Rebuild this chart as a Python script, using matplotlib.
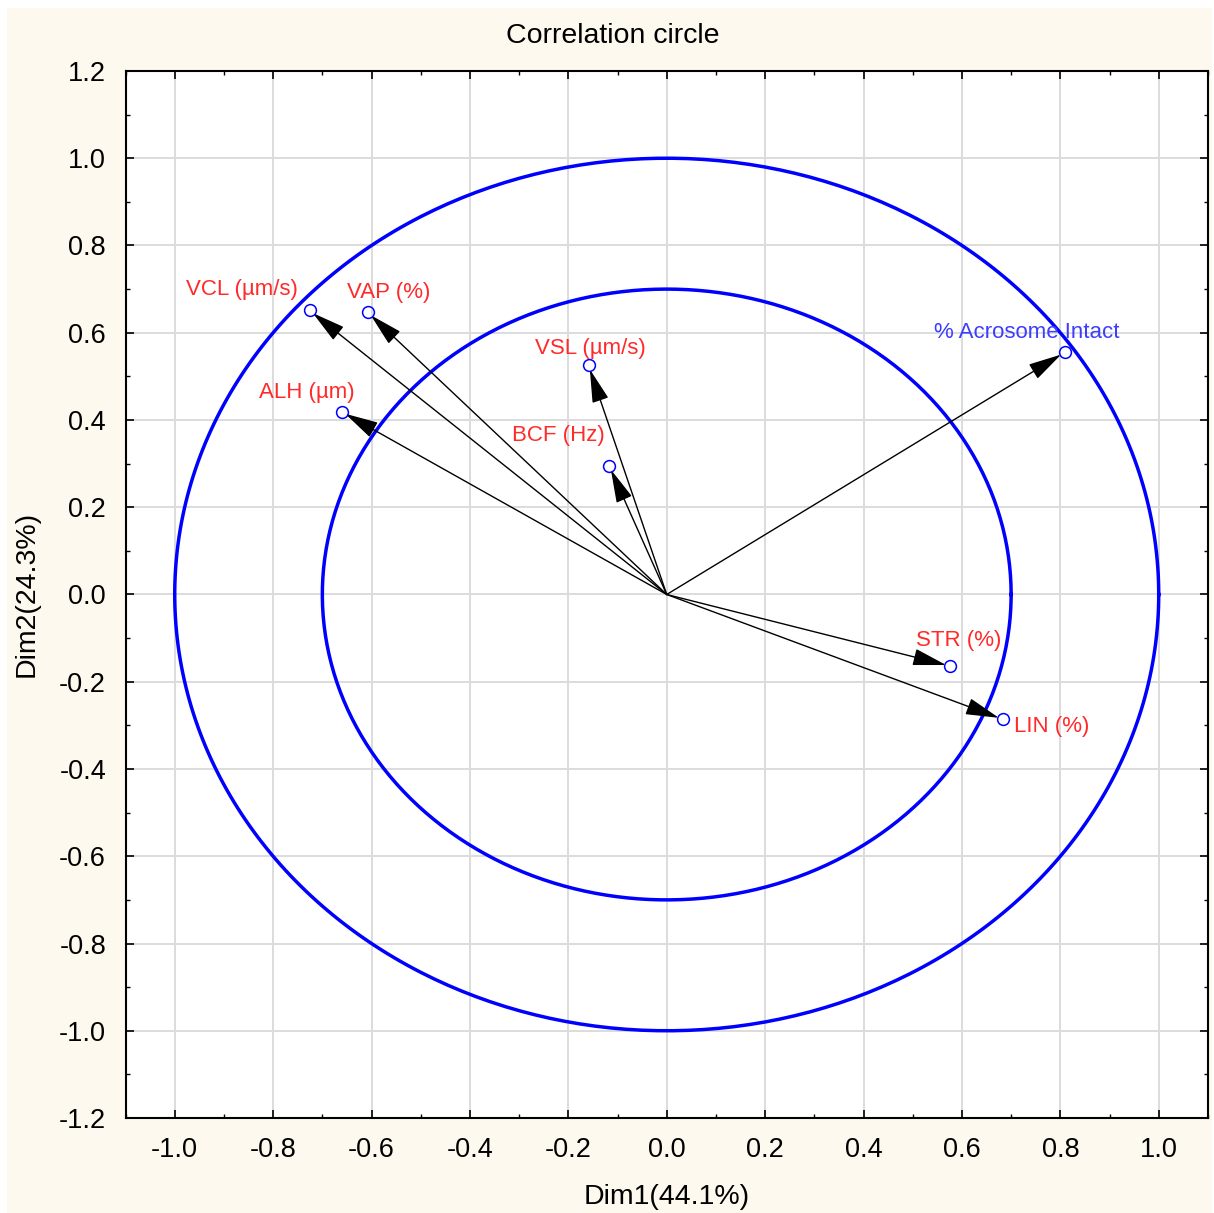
import numpy as np
import matplotlib
matplotlib.use("Agg")
import matplotlib.pyplot as plt
from matplotlib.patches import Rectangle
from matplotlib.ticker import MultipleLocator

plt.rcParams['font.family'] = ['Liberation Sans', 'DejaVu Sans']

# variable loadings
names = ['VCL (\u00b5m/s)', 'VAP (%)', 'ALH (\u00b5m)', 'VSL (\u00b5m/s)', 'BCF (Hz)',
         '% Acrosome Intact', 'STR (%)', 'LIN (%)']
dim1 = [-0.726, -0.608, -0.661, -0.159, -0.117, 0.809, 0.576, 0.683]
dim2 = [0.651, 0.647, 0.419, 0.525, 0.295, 0.555, -0.164, -0.286]
radii = [1.0, 0.7]

# label placement (pixels from the point) and colours
offsets = [(-68, 21), (21, 20), (-35, 19), (2, 17), (-51, 30), (-38, 20), (9, 26), (49, -7)]
label_colors = ['#ff2a2a'] * 5 + ['#3d3dff'] + ['#ff2a2a'] * 2

fig = plt.figure(figsize=(12.14, 12.13), dpi=100, facecolor='white')
fig.patches.append(Rectangle((7 / 1214, 0), 1205 / 1214, 1 - 8 / 1213,
                             transform=fig.transFigure, facecolor='#fef9ef',
                             edgecolor='none', zorder=-10))
ax = fig.add_axes([0.1034, 0.0783, 0.8916, 0.8632])
ax.set_facecolor('white')

theta = np.linspace(0, 2 * np.pi, 400)
for r in radii:
    ax.plot(r * np.cos(theta), r * np.sin(theta), color='#0000ff', lw=2.5, zorder=3)

for i in range(len(names)):
    ax.annotate('', xy=(dim1[i], dim2[i]), xytext=(0, 0),
                arrowprops=dict(arrowstyle='-|>,head_length=0.95,head_width=0.24',
                                color='black', lw=1.0, shrinkA=0, shrinkB=3,
                                mutation_scale=22), zorder=4)
    ax.plot(dim1[i], dim2[i], 'o', ms=8.5, mfc='none', mec='#0000ff', mew=1.1, zorder=5)
    ax.annotate(names[i], xy=(dim1[i], dim2[i]), xytext=offsets[i],
                textcoords='offset pixels', ha='center', va='center',
                color=label_colors[i], fontsize=16, zorder=6)

ax.set_xlim(-1.1, 1.1)
ax.set_ylim(-1.2, 1.2)
ax.xaxis.set_major_locator(MultipleLocator(0.2))
ax.xaxis.set_minor_locator(MultipleLocator(0.1))
ax.yaxis.set_major_locator(MultipleLocator(0.2))
ax.yaxis.set_minor_locator(MultipleLocator(0.1))
ax.set_xticks(np.arange(-1.0, 1.01, 0.2))
ax.xaxis.set_major_formatter(plt.FuncFormatter(lambda v, p: '%.1f' % (0 if abs(v) < 1e-9 else v)))
ax.yaxis.set_major_formatter(plt.FuncFormatter(lambda v, p: '%.1f' % (0 if abs(v) < 1e-9 else v)))
ax.tick_params(which='both', direction='in', top=True, right=True, labelsize=19.5)
ax.tick_params(which='major', length=6, width=1.2, pad=14)
ax.tick_params(which='minor', length=3, width=1)
ax.grid(True, which='major', color='#dcdcdc', lw=1.4, zorder=0)
ax.set_axisbelow(True)
for s in ax.spines.values():
    s.set_linewidth(1.5)

fig.text(0.505, 0.9705, 'Correlation circle', ha='center', va='center', fontsize=20.5)
fig.text(0.549, 0.0132, 'Dim1(44.1%)', ha='center', va='center', fontsize=20.5)
fig.text(0.0222, 0.51, 'Dim2(24.3%)', ha='center', va='center', rotation=90, fontsize=20.5)

fig.savefig('out.png', dpi=100, facecolor=fig.get_facecolor())
